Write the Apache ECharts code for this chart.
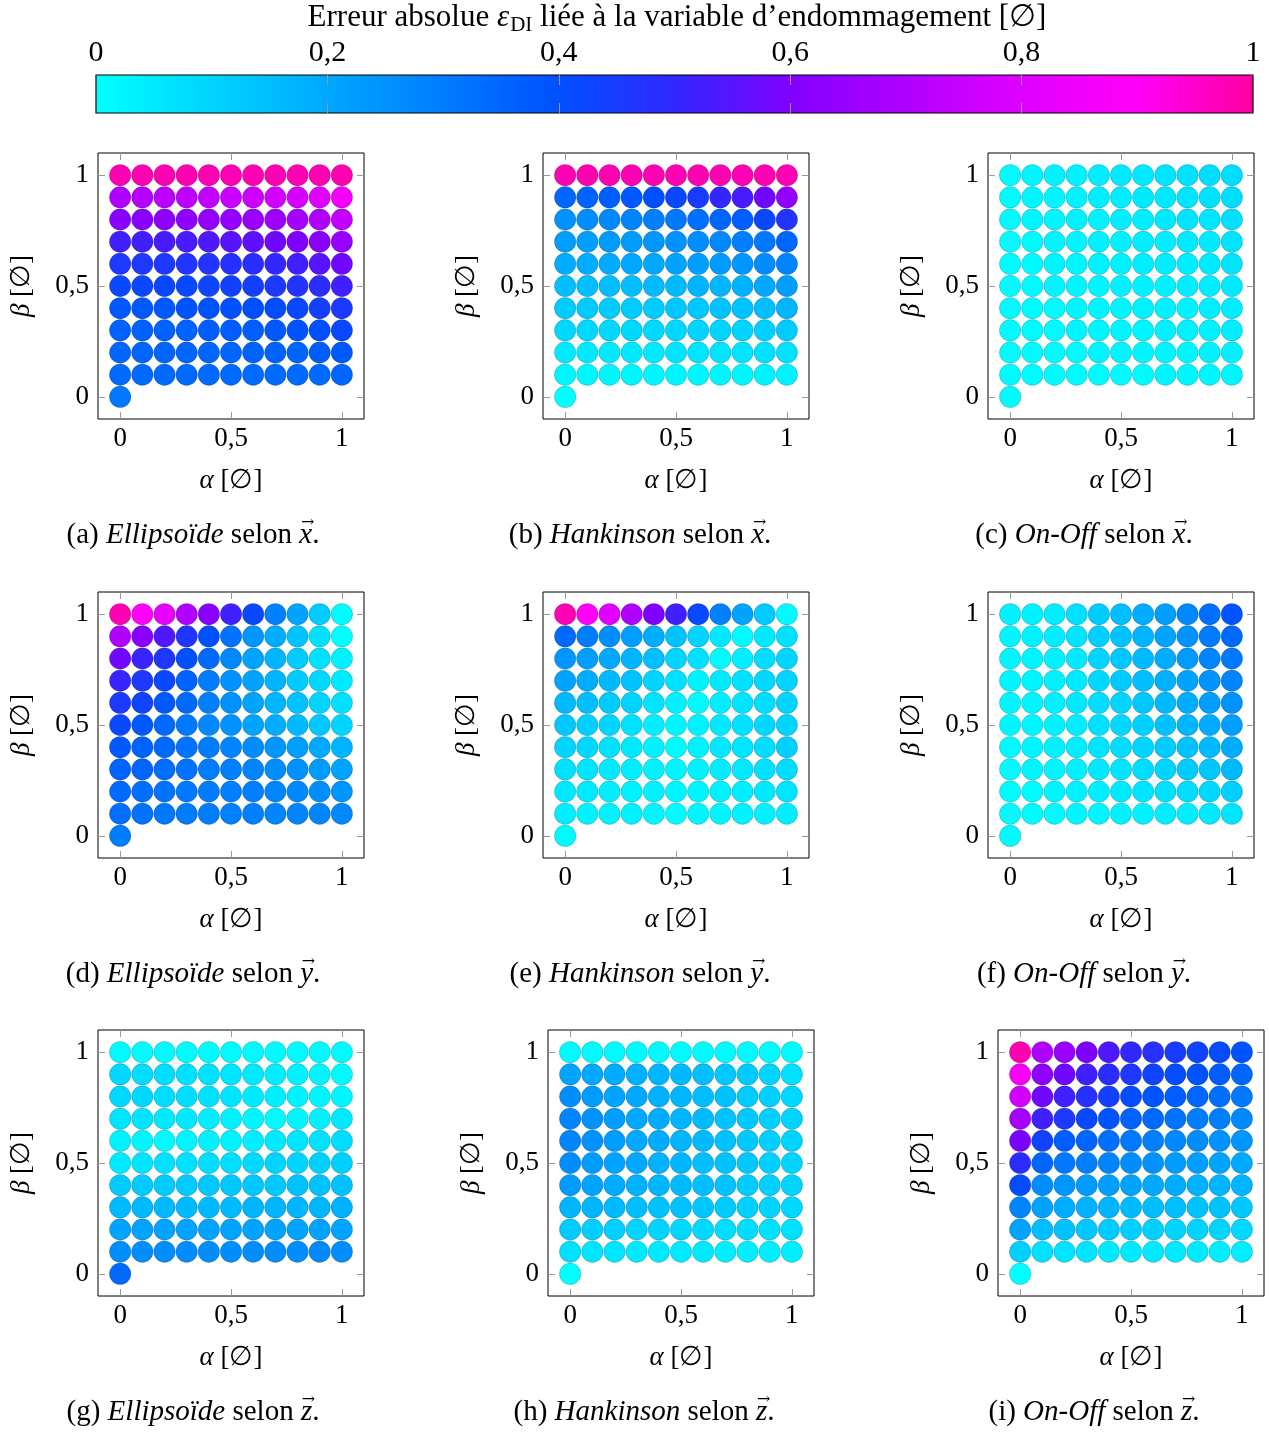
<!DOCTYPE html>
<html><head><meta charset="utf-8">
<script src="https://cdn.jsdelivr.net/npm/echarts@6/dist/echarts.min.js"></script>
<style>html,body{margin:0;padding:0;background:#fff}#c{width:1269px;height:1432px}</style>
</head><body><div id="c"></div>
<script>
// ---------- data ----------
const alphaValues = [0, 0.1, 0.2, 0.3, 0.4, 0.5, 0.6, 0.7, 0.8, 0.9, 1];
const betaValues = [1, 0.9, 0.8, 0.7, 0.6, 0.5, 0.4, 0.3, 0.2, 0.1]; // rows, top to bottom
const originAlpha = 0, originBeta = 0;
const axisTickValues = [0, 0.5, 1];
const colorbarLabelValues = [0, 0.2, 0.4, 0.6, 0.8, 1];
const colorbarTickValues = [0.2, 0.4, 0.6, 0.8];
const colormap = ['#00FFFF', '#00D4FF', '#00A8FF', '#007CFF', '#0050FF', '#3028FF', '#8000FF', '#B000FF', '#E000FF', '#FF00F8', '#FF00A0'];

const errEllipsoideX = [
  [0.98,0.98,0.98,0.98,0.98,0.98,0.98,0.98,0.98,0.98,0.98],
  [0.70,0.71,0.72,0.73,0.74,0.75,0.76,0.77,0.78,0.80,0.86],
  [0.62,0.62,0.63,0.63,0.64,0.64,0.65,0.66,0.68,0.70,0.74],
  [0.52,0.52,0.53,0.53,0.54,0.55,0.56,0.58,0.60,0.62,0.65],
  [0.46,0.46,0.46,0.47,0.47,0.48,0.49,0.50,0.52,0.55,0.58],
  [0.42,0.42,0.42,0.42,0.43,0.44,0.44,0.46,0.47,0.49,0.52],
  [0.38,0.38,0.38,0.39,0.39,0.40,0.40,0.41,0.42,0.44,0.46],
  [0.36,0.36,0.36,0.36,0.37,0.37,0.37,0.38,0.39,0.40,0.42],
  [0.35,0.35,0.35,0.35,0.35,0.35,0.36,0.36,0.36,0.37,0.38],
  [0.34,0.34,0.34,0.34,0.34,0.34,0.34,0.34,0.34,0.34,0.35]
];
const originEllipsoideX = 0.31;

const errHankinsonX = [
  [0.98,0.98,0.98,0.98,0.98,0.98,0.98,0.98,0.98,0.98,0.98],
  [0.35,0.36,0.37,0.38,0.40,0.42,0.45,0.50,0.53,0.58,0.64],
  [0.25,0.26,0.27,0.28,0.29,0.31,0.33,0.35,0.37,0.42,0.47],
  [0.22,0.22,0.23,0.23,0.24,0.25,0.26,0.27,0.29,0.31,0.35],
  [0.19,0.19,0.19,0.20,0.20,0.21,0.22,0.23,0.24,0.26,0.28],
  [0.15,0.15,0.15,0.15,0.16,0.16,0.17,0.17,0.18,0.20,0.22],
  [0.12,0.12,0.12,0.12,0.12,0.13,0.13,0.14,0.14,0.15,0.17],
  [0.09,0.09,0.09,0.09,0.09,0.09,0.10,0.10,0.10,0.11,0.12],
  [0.05,0.05,0.05,0.05,0.05,0.06,0.06,0.06,0.06,0.07,0.07],
  [0.02,0.02,0.02,0.02,0.02,0.02,0.02,0.02,0.02,0.03,0.03]
];
const originHankinsonX = 0.0;

const errOnOffX = [
  [0.01,0.02,0.03,0.03,0.04,0.05,0.05,0.06,0.07,0.08,0.08],
  [0.01,0.02,0.02,0.03,0.04,0.04,0.05,0.05,0.06,0.07,0.08],
  [0.01,0.02,0.02,0.03,0.03,0.04,0.04,0.05,0.06,0.06,0.07],
  [0.01,0.01,0.02,0.02,0.03,0.03,0.04,0.04,0.05,0.05,0.06],
  [0.01,0.01,0.02,0.02,0.03,0.03,0.04,0.04,0.04,0.05,0.06],
  [0.01,0.01,0.02,0.02,0.02,0.03,0.03,0.03,0.04,0.04,0.05],
  [0.01,0.01,0.01,0.02,0.02,0.02,0.03,0.03,0.03,0.04,0.04],
  [0.01,0.01,0.01,0.02,0.02,0.02,0.02,0.03,0.03,0.03,0.04],
  [0.01,0.01,0.01,0.01,0.02,0.02,0.02,0.02,0.02,0.03,0.03],
  [0.01,0.01,0.01,0.01,0.01,0.01,0.01,0.02,0.02,0.02,0.02]
];
const originOnOffX = 0.01;

const errEllipsoideY = [
  [0.98,0.90,0.82,0.70,0.62,0.52,0.42,0.29,0.21,0.12,0.01],
  [0.70,0.62,0.54,0.47,0.40,0.32,0.24,0.19,0.14,0.07,0.00],
  [0.58,0.51,0.46,0.40,0.34,0.27,0.21,0.17,0.12,0.07,0.03],
  [0.51,0.46,0.42,0.36,0.30,0.25,0.21,0.17,0.12,0.09,0.05],
  [0.46,0.43,0.38,0.34,0.29,0.25,0.21,0.17,0.14,0.10,0.07],
  [0.42,0.38,0.34,0.31,0.27,0.25,0.21,0.19,0.16,0.13,0.10],
  [0.38,0.36,0.34,0.32,0.30,0.28,0.26,0.24,0.22,0.20,0.17],
  [0.36,0.35,0.33,0.32,0.30,0.29,0.28,0.26,0.25,0.23,0.21],
  [0.34,0.33,0.32,0.31,0.30,0.29,0.29,0.28,0.27,0.26,0.24],
  [0.33,0.32,0.31,0.30,0.30,0.29,0.29,0.28,0.28,0.28,0.27]
];
const originEllipsoideY = 0.30;

const errHankinsonY = [
  [0.98,0.90,0.80,0.70,0.60,0.52,0.42,0.29,0.21,0.12,0.01],
  [0.34,0.30,0.26,0.22,0.19,0.14,0.10,0.05,0.01,0.05,0.07],
  [0.24,0.22,0.20,0.17,0.15,0.10,0.07,0.01,0.04,0.08,0.10],
  [0.21,0.19,0.16,0.14,0.10,0.07,0.03,0.05,0.07,0.09,0.10],
  [0.16,0.15,0.12,0.10,0.06,0.03,0.01,0.04,0.06,0.08,0.10],
  [0.13,0.11,0.10,0.07,0.04,0.02,0.03,0.05,0.07,0.09,0.10],
  [0.10,0.09,0.07,0.05,0.03,0.01,0.03,0.05,0.06,0.08,0.11],
  [0.07,0.06,0.05,0.04,0.03,0.02,0.03,0.04,0.05,0.07,0.08],
  [0.05,0.05,0.04,0.03,0.03,0.02,0.02,0.03,0.04,0.05,0.06],
  [0.04,0.03,0.03,0.03,0.02,0.01,0.02,0.02,0.03,0.03,0.04]
];
const originHankinsonY = 0.01;

const errOnOffY = [
  [0.03,0.03,0.04,0.07,0.12,0.15,0.19,0.22,0.27,0.33,0.39],
  [0.02,0.03,0.04,0.06,0.11,0.14,0.17,0.21,0.25,0.30,0.34],
  [0.02,0.02,0.03,0.05,0.10,0.13,0.16,0.19,0.23,0.28,0.31],
  [0.02,0.02,0.03,0.05,0.09,0.12,0.15,0.18,0.21,0.25,0.28],
  [0.02,0.02,0.03,0.05,0.08,0.10,0.13,0.16,0.19,0.22,0.25],
  [0.02,0.02,0.03,0.04,0.07,0.09,0.11,0.14,0.17,0.19,0.22],
  [0.01,0.02,0.03,0.04,0.06,0.08,0.10,0.12,0.14,0.16,0.19],
  [0.01,0.02,0.02,0.03,0.05,0.06,0.08,0.10,0.12,0.13,0.16],
  [0.01,0.01,0.02,0.03,0.04,0.05,0.06,0.07,0.08,0.09,0.11],
  [0.01,0.01,0.01,0.02,0.02,0.03,0.03,0.04,0.04,0.05,0.06]
];
const originOnOffY = 0.01;

const errEllipsoideZ = [
  [0.01,0.01,0.01,0.01,0.01,0.01,0.01,0.01,0.01,0.01,0.01],
  [0.09,0.08,0.08,0.07,0.07,0.06,0.05,0.04,0.03,0.02,0.01],
  [0.09,0.09,0.08,0.08,0.07,0.06,0.05,0.04,0.03,0.02,0.02],
  [0.06,0.06,0.05,0.05,0.04,0.03,0.02,0.01,0.02,0.03,0.05],
  [0.03,0.02,0.01,0.02,0.03,0.03,0.04,0.05,0.06,0.07,0.08],
  [0.05,0.06,0.07,0.07,0.08,0.08,0.09,0.10,0.10,0.11,0.11],
  [0.12,0.12,0.12,0.12,0.13,0.13,0.13,0.13,0.14,0.14,0.14],
  [0.16,0.16,0.16,0.16,0.16,0.16,0.17,0.17,0.17,0.17,0.18],
  [0.21,0.21,0.21,0.21,0.21,0.21,0.21,0.21,0.21,0.21,0.21],
  [0.26,0.26,0.26,0.26,0.26,0.26,0.26,0.26,0.26,0.27,0.26]
];
const originEllipsoideZ = 0.34;

const errHankinsonZ = [
  [0.01,0.01,0.01,0.01,0.01,0.01,0.01,0.01,0.01,0.01,0.01],
  [0.21,0.20,0.19,0.18,0.17,0.16,0.15,0.13,0.12,0.10,0.07],
  [0.26,0.23,0.21,0.20,0.18,0.17,0.15,0.14,0.12,0.11,0.09],
  [0.28,0.25,0.22,0.20,0.19,0.17,0.16,0.14,0.13,0.11,0.10],
  [0.28,0.25,0.22,0.20,0.19,0.17,0.16,0.14,0.13,0.11,0.10],
  [0.26,0.23,0.21,0.20,0.18,0.17,0.15,0.14,0.13,0.11,0.10],
  [0.23,0.21,0.19,0.18,0.17,0.16,0.15,0.14,0.12,0.11,0.10],
  [0.17,0.17,0.16,0.15,0.14,0.14,0.13,0.12,0.11,0.10,0.09],
  [0.12,0.11,0.11,0.10,0.10,0.09,0.09,0.08,0.08,0.07,0.07],
  [0.07,0.06,0.06,0.05,0.05,0.05,0.05,0.04,0.04,0.04,0.04]
];
const originHankinsonZ = 0.0;

const errOnOffZ = [
  [0.98,0.70,0.65,0.60,0.54,0.50,0.48,0.45,0.43,0.41,0.39],
  [0.88,0.63,0.58,0.52,0.49,0.46,0.43,0.41,0.39,0.37,0.35],
  [0.77,0.58,0.52,0.48,0.44,0.41,0.39,0.37,0.35,0.33,0.31],
  [0.68,0.52,0.46,0.42,0.39,0.36,0.34,0.32,0.30,0.29,0.27],
  [0.59,0.43,0.37,0.35,0.33,0.31,0.29,0.27,0.26,0.25,0.24],
  [0.49,0.35,0.31,0.29,0.28,0.26,0.25,0.23,0.22,0.21,0.20],
  [0.41,0.26,0.24,0.23,0.22,0.21,0.20,0.19,0.18,0.17,0.17],
  [0.28,0.21,0.19,0.18,0.17,0.16,0.15,0.15,0.14,0.14,0.13],
  [0.21,0.15,0.14,0.13,0.12,0.11,0.11,0.10,0.10,0.10,0.09],
  [0.11,0.07,0.06,0.06,0.05,0.05,0.05,0.05,0.05,0.04,0.04]
];
const originOnOffZ = 0.0;

const panelLetters = ['(a)','(b)','(c)','(d)','(e)','(f)','(g)','(h)','(i)'];
const panelModels = ['Ellipsoïde','Hankinson','On-Off','Ellipsoïde','Hankinson','On-Off','Ellipsoïde','Hankinson','On-Off'];
const panelDirections = ['x','x','x','y','y','y','z','z','z'];
const panelErrors = [errEllipsoideX, errHankinsonX, errOnOffX, errEllipsoideY, errHankinsonY, errOnOffY, errEllipsoideZ, errHankinsonZ, errOnOffZ];
const panelOrigins = [originEllipsoideX, originHankinsonX, originOnOffX, originEllipsoideY, originHankinsonY, originOnOffY, originEllipsoideZ, originHankinsonZ, originOnOffZ];

// ---------- layout ----------
const boxes = [[98,153],[543,153],[988,153],[98,592],[543,592],[988,592],[98,1030],[548,1030],[998,1030]];
const boxSize = 266;
const captionPos = [[193,535],[640,535],[1084,535],[193,974],[640,974],[1084,974],[193,1412],[644,1412],[1094,1412]];
const FONT = "'Liberation Serif','DejaVu Serif',serif";
const FS = 27;
const FS_CAP = 29;
const FS_TITLE = 31;
const FS_CB = 30;
const fmt = v => String(v).replace('.', ',');
const tickStyle = {inside: true, length: 7, lineStyle: {color: '#999', width: 1}};
const cbTickStyle = {inside: true, length: 10, lineStyle: {color: '#999', width: 1}};

const measureCtx = document.createElement('canvas').getContext('2d');
function textW(str, italic) {
  measureCtx.font = (italic ? 'italic ' : '') + FS_CAP + 'px ' + FONT;
  return measureCtx.measureText(str).width;
}

function buildData(err, origin) {
  const d = [[originAlpha, originBeta, origin]];
  betaValues.forEach((b, r) => alphaValues.forEach((a, c) => d.push([a, b, err[r][c]])));
  return d;
}

const nameRich = {i: {fontStyle: 'italic', fontSize: FS, fontFamily: FONT, color: '#000'}};
const grids = [], xAxes = [], yAxes = [], series = [], graphics = [];
boxes.forEach((b, i) => {
  grids.push({left: b[0], top: b[1], width: boxSize, height: boxSize, show: true, borderColor: '#000', borderWidth: 1, backgroundColor: 'transparent'});
  const common = {gridIndex: i, type: 'value', min: -0.1, max: 1.1, splitLine: {show: false}, axisLine: {show: false, onZero: false},
    axisTick: Object.assign({customValues: axisTickValues}, tickStyle)};
  xAxes.push(Object.assign({}, common, {position: 'bottom',
    axisLabel: {customValues: axisTickValues, formatter: fmt, margin: 6, fontSize: FS, fontFamily: FONT, color: '#000'},
    name: '{i|α} [∅]', nameLocation: 'middle', nameGap: 48,
    nameTextStyle: {fontSize: FS, fontFamily: FONT, color: '#000', rich: nameRich}}));
  xAxes.push(Object.assign({}, common, {position: 'top', axisLabel: {show: false}}));
  yAxes.push(Object.assign({}, common, {position: 'left',
    axisLabel: {customValues: axisTickValues, formatter: fmt, margin: 9, fontSize: FS, fontFamily: FONT, color: '#000'},
    name: '{i|β} [∅]', nameLocation: 'middle', nameGap: 63,
    nameTextStyle: {fontSize: FS, fontFamily: FONT, color: '#000', rich: nameRich}}));
  yAxes.push(Object.assign({}, common, {position: 'right', axisLabel: {show: false}}));
  series.push({type: 'scatter', xAxisIndex: 2 * i, yAxisIndex: 2 * i, symbol: 'circle', symbolSize: 21.5,
    itemStyle: {borderColor: 'rgba(0,0,0,0.22)', borderWidth: 0.8, opacity: 1},
    emphasis: {disabled: true}, data: buildData(panelErrors[i], panelOrigins[i])});

  // caption, with a vector arrow above the direction letter
  const pre = panelLetters[i] + ' ', model = panelModels[i], mid = ' selon ', dir = panelDirections[i], end = '.';
  const wPre = textW(pre, false), wModel = textW(model, true), wMid = textW(mid, false), wDir = textW(dir, true), wEnd = textW(end, false);
  const total = wPre + wModel + wMid + wDir + wEnd;
  const x0 = captionPos[i][0] - total / 2;
  graphics.push({type: 'text', x: x0, y: captionPos[i][1], style: {
    text: '{n|' + pre + '}{i|' + model + '}{n|' + mid + '}{i|' + dir + '}{n|' + end + '}',
    align: 'left', verticalAlign: 'middle',
    rich: {n: {fontSize: FS_CAP, fontFamily: FONT, fill: '#000'}, i: {fontSize: FS_CAP, fontFamily: FONT, fontStyle: 'italic', fill: '#000'}}}});
  graphics.push({type: 'text', x: x0 + wPre + wModel + wMid + wDir / 2 + 2, y: captionPos[i][1] - 12, style: {
    text: '→', align: 'center', verticalAlign: 'middle', fontSize: 16, fontFamily: "'DejaVu Serif',serif", fill: '#000'}});
});

// colorbar grid (index 9)
grids.push({left: 96, top: 75, width: 1157, height: 38, show: true, borderColor: '#000', borderWidth: 1.2, backgroundColor: 'transparent', zlevel: 1});
xAxes.push({gridIndex: 9, type: 'value', min: 0, max: 1, position: 'top', zlevel: 1, splitLine: {show: false}, axisLine: {show: false, onZero: false},
  axisTick: Object.assign({customValues: colorbarTickValues}, cbTickStyle),
  axisLabel: {customValues: colorbarLabelValues, formatter: fmt, margin: 7, fontSize: FS_CB, fontFamily: FONT, color: '#000'}});
xAxes.push({gridIndex: 9, type: 'value', min: 0, max: 1, position: 'bottom', zlevel: 1, splitLine: {show: false}, axisLine: {show: false, onZero: false},
  axisTick: Object.assign({customValues: colorbarTickValues}, cbTickStyle), axisLabel: {show: false}});
yAxes.push({gridIndex: 9, type: 'value', min: 0, max: 1, show: false});

graphics.push({type: 'text', x: 677, y: 18, style: {
  text: '{n|Erreur absolue }{e|ε}{s|DI}{n| liée à la variable d’endommagement [∅]}',
  align: 'center', verticalAlign: 'middle',
  rich: {n: {fontSize: FS_TITLE, fontFamily: FONT, fill: '#000', lineHeight: 36},
         e: {fontSize: FS_TITLE, fontFamily: FONT, fontStyle: 'italic', fill: '#000', lineHeight: 36},
         s: {fontSize: 21, fontFamily: FONT, fill: '#000', lineHeight: 36, padding: [14, 0, 0, 1]}}}});

const chart = echarts.init(document.getElementById('c'), null, {renderer: 'canvas'});
chart.setOption({
  animation: false,
  backgroundColor: '#fff',
  grid: grids, xAxis: xAxes, yAxis: yAxes, series: series,
  visualMap: {type: 'continuous', min: 0, max: 1, dimension: 2, seriesIndex: [0,1,2,3,4,5,6,7,8],
    inRange: {color: colormap}, orient: 'horizontal', left: 96, top: 75, itemWidth: 38, itemHeight: 1157,
    calculable: false, padding: 0, z: 1, hoverLink: false},
  graphic: graphics
});
</script></body></html>
